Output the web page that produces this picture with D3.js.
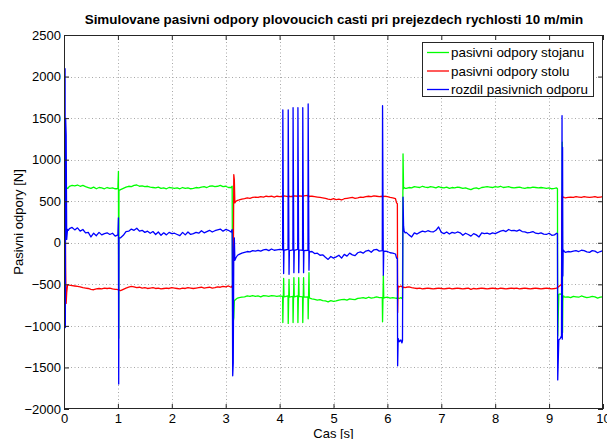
<!DOCTYPE html>
<html>
<head>
<meta charset="utf-8">
<script src="https://cdn.jsdelivr.net/npm/d3@7"></script>
<style>
  html, body { margin: 0; padding: 0; background: #ffffff; }
  svg { display: block; }
  text { font-family: "Liberation Sans", Arial, Helvetica, sans-serif; }
</style>
</head>
<body>
<svg id="chart" width="607" height="439"></svg>
<script>
// ---- data ----
const titleText = "Simulovane pasivni odpory plovoucich casti pri prejezdech rychlosti 10 m/min";
const xLabelText = "Cas [s]";
const yLabelText = "Pasivni odpory [N]";
const xTicks = [0, 1, 2, 3, 4, 5, 6, 7, 8, 9, 10];
const yTicks = [-2000, -1500, -1000, -500, 0, 500, 1000, 1500, 2000, 2500];
const seriesNames = ["pasivni odpory stojanu", "pasivni odpory stolu", "rozdil pasivnich odporu"];
const seriesColors = ["#00ff00", "#ff0000", "#0000ff"];

const time = [
  0.02, 0.025, 0.03, 0.04, 0.05, 0.065, 0.08,
  0.10, 0.15, 0.20, 0.25, 0.30, 0.35, 0.40, 0.45, 0.50, 0.55, 0.60, 0.65, 0.70, 0.75, 0.80, 0.85, 0.90, 0.95,
  0.98, 1.00, 1.01, 1.015, 1.02,
  1.05, 1.10, 1.15, 1.20, 1.25, 1.30, 1.35, 1.40, 1.45, 1.50,
  1.55, 1.60, 1.65, 1.70, 1.75, 1.80, 1.85, 1.90, 1.95, 2.00,
  2.05, 2.10, 2.15, 2.20, 2.25, 2.30, 2.35, 2.40, 2.45, 2.50,
  2.55, 2.60, 2.65, 2.70, 2.75, 2.80, 2.85, 2.90, 2.95, 3.00,
  3.05,
  3.10, 3.12, 3.13, 3.14, 3.15, 3.16, 3.17, 3.19, 3.22,
  3.25, 3.30, 3.35, 3.40, 3.45, 3.50, 3.55, 3.60, 3.65, 3.70, 3.75, 3.80, 3.85, 3.90, 3.95, 4.00,
  4.056, 4.06, 4.075, 4.082,
  4.156, 4.16, 4.175, 4.182,
  4.246, 4.25, 4.265, 4.272,
  4.336, 4.34, 4.355, 4.362,
  4.426, 4.43, 4.445, 4.452,
  4.526, 4.53, 4.545, 4.552,
  4.57,
  4.60, 4.65, 4.70, 4.75, 4.80, 4.85, 4.90, 4.95, 5.00, 5.05,
  5.10, 5.15, 5.20, 5.25, 5.30, 5.35, 5.40, 5.45, 5.50, 5.55,
  5.60, 5.65, 5.70, 5.75, 5.80, 5.85,
  5.905, 5.91, 5.925, 5.932, 5.95, 6.00, 6.05, 6.10, 6.15, 6.17, 6.185, 6.19, 6.20, 6.22, 6.25, 6.27, 6.28, 6.29, 6.30, 6.31, 6.33,
  6.35, 6.40, 6.45, 6.50, 6.55, 6.60, 6.65, 6.70, 6.75, 6.80,
  6.85, 6.90, 6.95, 7.00, 7.05, 7.10, 7.15, 7.20, 7.25, 7.30,
  7.35, 7.40, 7.45, 7.50, 7.55, 7.60, 7.65, 7.70, 7.75, 7.80,
  7.85, 7.90, 7.95, 8.00, 8.05, 8.10, 8.15, 8.20, 8.25, 8.30,
  8.35, 8.40, 8.45, 8.50, 8.55, 8.60, 8.65, 8.70, 8.75, 8.80,
  8.85, 8.90, 8.95, 9.00, 9.05, 9.10,
  9.14, 9.155, 9.16, 9.18, 9.21, 9.23, 9.24, 9.245, 9.25, 9.255, 9.26, 9.27, 9.28,
  9.30, 9.35, 9.40, 9.45, 9.50, 9.55, 9.60, 9.65, 9.70, 9.75, 9.80, 9.85, 9.90, 9.95, 10.00
];

// pasivni odpory stojanu (green)
const stojanu = [
  700, 1000, 800, 650, 660, 655, 660,
  680, 690, 685, 695, 680, 690, 675, 665, 655, 670, 650, 665, 660, 650, 665, 655, 660, 650,
  650, 655, 860, -1150, 630,
  640, 655, 670, 680, 675, 690, 695, 680, 685, 675,
  680, 670, 665, 660, 670, 655, 660, 650, 665, 660,
  655, 660, 650, 665, 655, 660, 650, 655, 665, 660,
  670, 675, 665, 680, 685, 675, 680, 690, 675, 680,
  665,
  665, 680, -1100, -950, -900, -700, -690, -680, -665,
  -660, -655, -650, -640, -645, -635, -645, -640, -650, -635, -640, -645, -635, -640, -645, -640,
  -645, -960, -430, -650,
  -640, -970, -440, -655,
  -645, -960, -420, -650,
  -640, -960, -420, -645,
  -650, -960, -420, -655,
  -650, -915, -360, -660,
  -670,
  -675, -680, -690, -685, -695, -700, -710, -695, -705, -700,
  -690, -685, -680, -690, -675, -680, -685, -670, -665, -660,
  -670, -655, -665, -660, -650, -660,
  -660, -950, -390, -665, -660, -655, -665, -660, -665, -670, -660, -660, -665, -670, -660, -670, -660, 1070, 650, 665, 655,
  655, 665, 660, 675, 670, 665, 680, 670, 665, 675,
  670, 660, 675, 665, 660, 670, 655, 665, 660, 670,
  665, 655, 660, 650, 640, 655, 660, 650, 665, 670,
  675, 670, 665, 675, 670, 680, 665, 670, 675, 665,
  660, 665, 670, 660, 655, 665, 660, 670, 665, 660,
  665, 660, 655, 660, 650, 655,
  660, 650, -1120, -620, -615, -625, -610, 1210, -1080, -700, -650, -640, -650,
  -655, -650, -660, -645, -650, -655, -640, -650, -660, -655, -645, -650, -665, -655, -650
];

// pasivni odpory stolu (red)
const stolu = [
  100, 110, -300, -730, -600, -510, -505,
  -510, -515, -520, -525, -530, -540, -545, -550, -560, -565, -555, -550, -555, -545, -550, -545, -555, -560,
  -560, -565, -560, -560, -570,
  -575, -560, -545, -535, -525, -530, -540, -535, -545, -540,
  -550, -545, -540, -550, -545, -555, -550, -545, -550, -540,
  -545, -550, -555, -545, -550, -540, -545, -550, -545, -540,
  -535, -545, -540, -535, -545, -540, -530, -535, -525, -530,
  -520,
  -535, -520, -500, -500, 820, 760, 480, 500, 510,
  515, 525, 530, 540, 535, 545, 550, 545, 555, 550, 560, 555, 560, 550, 560, 555,
  560, 555, 560, 565,
  555, 560, 565, 555,
  560, 555, 560, 565,
  560, 555, 560, 565,
  560, 555, 560, 565,
  570, 560, 565, 555,
  560,
  560, 555, 550, 545, 540, 535, 525, 520, 530, 520,
  525, 515, 530, 535, 540, 545, 535, 540, 550, 545,
  555, 560, 555, 565, 560, 555,
  560, 555, 560, 555, 560, 555, 545, 540, 530, 480, 470, -840, -520, -530, -520, -530, -535, -530, -540, -535, -540,
  -535, -530, -540, -545, -550, -545, -555, -550, -545, -550,
  -555, -550, -545, -550, -555, -550, -545, -555, -550, -545,
  -550, -555, -550, -545, -560, -550, -555, -550, -545, -550,
  -555, -550, -545, -550, -555, -545, -550, -555, -550, -545,
  -550, -545, -555, -550, -545, -550, -555, -550, -545, -550,
  -555, -550, -545, -550, -555, -550,
  -545, -540, -540, -525, -510, -500, 560, 545, 540, 550, 545, 550, 545,
  540, 545, 550, 545, 555, 550, 545, 555, 550, 545, 550, 555, 545, 550, 555
];

// rozdil pasivnich odporu (blue)
const rozdil = [
  2100, -1020, 1500, 1300, 40, 160, 150,
  170, 185, 155, 180, 140, 160, 120, 125, 70, 115, 85, 125, 95, 110, 120, 100, 115, 80,
  90, 95, 300, -1700, 60,
  60, 90, 135, 140, 165, 150, 175, 140, 150, 125,
  140, 115, 135, 100, 130, 90, 120, 95, 125, 110,
  115, 100, 85, 125, 95, 130, 100, 110, 125, 115,
  145, 120, 135, 150, 130, 145, 155, 165, 140, 160,
  150,
  130, 160, -1600, -1450, -80, 60, -210, -180, -150,
  -140, -125, -115, -105, -110, -95, -100, -90, -100, -85, -80, -95, -75, -90, -85, -80,
  -85, 1600, -370, -90,
  -80, 1600, -380, -95,
  -85, 1625, -360, -90,
  -80, 1625, -360, -85,
  -90, 1625, -360, -95,
  -90, 1670, -330, -100,
  -110,
  -105, -130, -125, -150, -145, -175, -200, -165, -185, -170,
  -150, -185, -140, -160, -125, -145, -155, -120, -110, -125,
  -100, -90, -115, -85, -80, -100,
  -95, 1650, -390, -105, -100, -105, -120, -125, -135, -185, -190, -1480, -1150, -1190, -1170, -1205, -1180, 550, 200, 140, 120,
  125, 95, 70, 120, 105, 125, 140, 130, 145, 135,
  130, 150, 190, 125, 110, 130, 105, 125, 115, 130,
  120, 90, 115, 100, 80, 110, 95, 70, 120, 110,
  115, 105, 120, 110, 125, 140, 150, 135, 160, 145,
  150, 140, 155, 135, 130, 120, 125, 135, 115, 110,
  120, 105, 100, 115, 90, 95,
  115, 110, -1650, -1170, -1150, -1120, 1530, -1160, 1150, -400, -100, -90, -105,
  -115, -105, -110, -100, -95, -105, -90, -95, -110, -115, -95, -100, -120, -105, -95
];

// ---- drawing ----
const W = 607, H = 439;
const plot = { left: 64, right: 603, top: 35, bottom: 409 };
const svg = d3.select("#chart");
svg.append("rect").attr("x", 0).attr("y", 0).attr("width", W).attr("height", H).attr("fill", "#ffffff");

const x = d3.scaleLinear().domain([0, 10]).range([plot.left, plot.right]);
const y = d3.scaleLinear().domain([-2000, 2500]).range([plot.bottom, plot.top]);

svg.append("defs").append("clipPath").attr("id", "clip")
  .append("rect").attr("x", plot.left).attr("y", plot.top)
  .attr("width", plot.right - plot.left).attr("height", plot.bottom - plot.top);

// grid
const grid = svg.append("g").attr("stroke", "#a8a8a8").attr("stroke-width", 1).attr("stroke-dasharray", "1,2.5");
grid.selectAll(".gx").data(xTicks.slice(1, -1)).join("line")
  .attr("x1", d => Math.round(x(d)) + 0.5).attr("x2", d => Math.round(x(d)) + 0.5)
  .attr("y1", plot.top).attr("y2", plot.bottom);
grid.selectAll(".gy").data(yTicks.slice(1, -1)).join("line")
  .attr("y1", d => Math.round(y(d)) + 0.5).attr("y2", d => Math.round(y(d)) + 0.5)
  .attr("x1", plot.left).attr("x2", plot.right);

// series
const series = [stojanu, stolu, rozdil];
const line = d3.line().x(d => x(d[0])).y(d => y(d[1]));
const lines = svg.append("g").attr("clip-path", "url(#clip)");
series.forEach((vals, i) => {
  const pts = time.map((t, k) => [t, vals[k]]);
  lines.append("path").datum(pts)
    .attr("fill", "none").attr("stroke", seriesColors[i])
    .attr("stroke-width", 1.3).attr("stroke-linejoin", "round")
    .attr("d", line);
});

// axes (ticks inward on all sides)
const axisColor = "#262626";
function styleAxis(g) {
  g.select(".domain").remove();
  g.selectAll(".tick line").attr("stroke", axisColor);
  g.selectAll(".tick text").attr("fill", "#000").attr("font-size", 13)
    .attr("font-family", "'Liberation Sans', Arial, Helvetica, sans-serif");
}
svg.append("g").attr("transform", `translate(0,${plot.bottom})`)
  .call(d3.axisBottom(x).tickValues(xTicks).tickSize(-5).tickPadding(5).tickFormat(d3.format("d")))
  .call(styleAxis);
svg.append("g").attr("transform", `translate(0,${plot.top})`)
  .call(d3.axisTop(x).tickValues(xTicks).tickSize(-5).tickFormat(""))
  .call(styleAxis);
svg.append("g").attr("transform", `translate(${plot.left},0)`)
  .call(d3.axisLeft(y).tickValues(yTicks).tickSize(-5).tickPadding(3).tickFormat(d3.format("d")))
  .call(styleAxis);
svg.append("g").attr("transform", `translate(${plot.right},0)`)
  .call(d3.axisRight(y).tickValues(yTicks).tickSize(-5).tickFormat(""))
  .call(styleAxis);

svg.append("rect")
  .attr("x", plot.left + 0.5).attr("y", plot.top + 0.5)
  .attr("width", plot.right - plot.left - 1).attr("height", plot.bottom - plot.top - 1)
  .attr("fill", "none").attr("stroke", axisColor).attr("stroke-width", 1);

// title & labels
svg.append("text").attr("x", 334).attr("y", 24).attr("text-anchor", "middle")
  .attr("font-size", 13.4).attr("font-weight", "bold").attr("fill", "#000").text(titleText);
svg.append("text").attr("x", (plot.left + plot.right) / 2).attr("y", 437.5).attr("text-anchor", "middle")
  .attr("font-size", 13).attr("fill", "#000").text(xLabelText);
svg.append("text").attr("transform", `translate(23,${(plot.top + plot.bottom) / 2}) rotate(-90)`)
  .attr("text-anchor", "middle").attr("font-size", 13).attr("fill", "#000").text(yLabelText);

// legend
const lg = svg.append("g");
const legBox = { x: 422.5, y: 42.5, w: 171, h: 54 };
lg.append("rect").attr("x", legBox.x).attr("y", legBox.y).attr("width", legBox.w).attr("height", legBox.h)
  .attr("fill", "#ffffff").attr("stroke", axisColor).attr("stroke-width", 1);
const rows = lg.selectAll(".row").data(seriesNames).join("g")
  .attr("transform", (d, i) => `translate(0,${52.5 + i * 18.5})`);
rows.append("line").attr("x1", 427).attr("x2", 449).attr("y1", 0).attr("y2", 0)
  .attr("stroke", (d, i) => seriesColors[i]).attr("stroke-width", 1.3);
rows.append("text").attr("x", 451).attr("y", 4.7).attr("font-size", 13.4).attr("fill", "#000").text(d => d);
</script>
</body>
</html>
